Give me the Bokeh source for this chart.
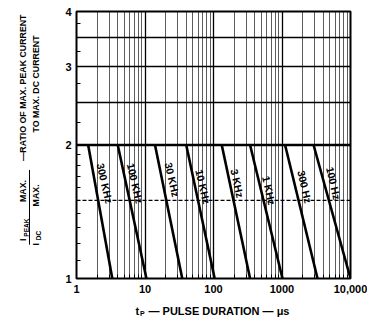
from bokeh.plotting import figure
from bokeh.layouts import row, column
from bokeh.models import FixedTicker, Span, ColumnDataSource
from bokeh.core.properties import value
from bokeh.embed import file_html
from bokeh.resources import INLINE

# ---- data ----
freq_labels = ["300 KHz", "100 KHz", "30 KHz", "10 KHz", "3 KHz", "1 KHz", "300 Hz", "100 Hz"]
knee_tp = [1.48, 4.0, 14.0, 40.0, 132.0, 342.0, 1110.0, 2890.0]   # where curve leaves ratio 2
end_tp = [3.33, 10.5, 35.0, 104.0, 342.0, 1017.0, 3300.0, 10000.0]  # where curve reaches ratio 1
flat_ratio = 2.0
end_ratio = 1.0
label_tp = [2.6, 7.2, 25.0, 70.3, 223.0, 648.0, 2155.0, 5660.0]
label_ratio = [1.64, 1.64, 1.67, 1.61, 1.64, 1.58, 1.61, 1.64]

x_ticks = [1, 10, 100, 1000, 10000]
x_tick_labels = ["1", "10", "100", "1000", "10,000"]
y_ticks = [1, 2, 3, 4]
y_tick_labels = ["1", "2", "3", "4"]
y_grid_solid = [2.5, 3, 3.5]
y_grid_dashed = 1.5

FONT = "Liberation Sans"
W, H = 367, 325
LEFT_W = 58
MAIN_H = 300

def blank(width, height):
    f = figure(width=width, height=height, x_range=(0, width), y_range=(0, height),
               x_axis_location=None, y_axis_location=None,
               output_backend="svg", toolbar_location=None, min_border=0)
    f.grid.visible = False
    f.outline_line_color = None
    f.background_fill_color = "white"
    f.border_fill_color = "white"
    return f

# ---------------- main chart ----------------
p = figure(width=W - LEFT_W, height=MAIN_H, x_axis_type="log", y_axis_type="log",
           x_range=(1, 10000), y_range=(1, 4),
           output_backend="svg", toolbar_location=None,
           min_border_left=18, min_border_right=17, min_border_top=11, min_border_bottom=22)
p.background_fill_color = "white"
p.border_fill_color = "white"
p.outline_line_color = "black"
p.outline_line_width = 2

x_minor = [m * d for d in [1, 10, 100, 1000] for m in range(2, 10)]
y_minor = [1.1, 1.2, 1.3, 1.4, 1.6, 1.7, 1.8, 1.9, 2.25, 2.75, 3.25, 3.75]

p.xgrid.ticker = FixedTicker(ticks=x_ticks, minor_ticks=x_minor)
p.xgrid.grid_line_color = "black"
p.xgrid.grid_line_width = 1.3
p.xgrid.minor_grid_line_color = "black"
p.xgrid.minor_grid_line_width = 0.8
p.xgrid.minor_grid_line_alpha = 0.8
p.ygrid.ticker = FixedTicker(ticks=y_grid_solid)
p.ygrid.grid_line_color = "black"
p.ygrid.grid_line_width = 1.3
p.add_layout(Span(location=y_grid_dashed, dimension="width", line_color="black",
                  line_width=1.2, line_dash="4 2"))

for ax in (p.xaxis[0], p.yaxis[0]):
    ax.axis_line_color = None
    ax.major_tick_out = 0
    ax.major_tick_in = 0
    ax.minor_tick_out = 0
    ax.minor_tick_in = 4
    ax.minor_tick_line_color = "black"
    ax.minor_tick_line_width = 1
    ax.major_label_text_font = FONT
    ax.major_label_text_font_style = "bold"
    ax.major_label_text_font_size = "11px"
    ax.major_label_text_color = "black"
p.xaxis.ticker = FixedTicker(ticks=x_ticks, minor_ticks=x_minor)
p.xaxis.major_label_overrides = {t: l for t, l in zip(x_ticks, x_tick_labels)}
p.xaxis.major_label_standoff = 6
p.yaxis.ticker = FixedTicker(ticks=y_ticks, minor_ticks=y_minor)
p.yaxis.major_label_overrides = {t: l for t, l in zip(y_ticks, y_tick_labels)}
p.yaxis.major_label_standoff = 5

p.line([x_ticks[0], x_ticks[-1]], [flat_ratio, flat_ratio], line_color="black", line_width=2.6)
xs = [[k, e] for k, e in zip(knee_tp, end_tp)]
ys = [[flat_ratio, end_ratio] for _ in knee_tp]
p.multi_line(xs, ys, line_color="black", line_width=2.6)

src = ColumnDataSource(dict(x=label_tp, y=label_ratio, t=freq_labels))
p.text(x="x", y="y", text="t", source=src, angle=-77, angle_units="deg",
       text_align="center", text_baseline="middle",
       text_font=value(FONT), text_font_style="bold", text_font_size="10.5px",
       text_color="black")

# ---------------- left title block ----------------
lf = blank(LEFT_W, MAIN_H)
def ytxt(txt, px, py, size="8.8px", align="center"):
    lf.text(x=[px], y=[MAIN_H - py], text=[txt], angle=90, angle_units="deg",
            text_align=align, text_baseline="middle", text_font=value(FONT),
            text_font_style="bold", text_font_size=size, text_color="black")

ytxt("RATIO OF MAX. PEAK CURRENT", 22, 81)
ytxt("TO MAX. DC CURRENT", 35.5, 81.5)
ytxt("\u2014", 22, 163)
ytxt("I", 22.5, 258, align="left")
ytxt("PEAK", 25.5, 253, size="6.5px", align="left")
ytxt("MAX.", 22.5, 214, align="left")
ytxt("I", 35.5, 263, align="left")
ytxt("DC", 38, 257, size="6.5px", align="left")
ytxt("MAX.", 35.5, 219, align="left")
lf.line([29, 29], [MAIN_H - 262, MAIN_H - 178], line_color="black", line_width=1)

# ---------------- bottom title ----------------
bf = blank(W, H - MAIN_H)
def xtxt(txt, px, py, size="11px", align="left"):
    bf.text(x=[px], y=[H - py], text=[txt], text_align=align, text_baseline="middle",
            text_font=value(FONT), text_font_style="bold", text_font_size=size,
            text_color="black")

xtxt("t", 135, 310)
xtxt("P", 139.5, 312.5, size="7px")
xtxt("\u2014 PULSE DURATION \u2014 \u03bcs", 148, 310)

layout = column(row(lf, p), bf)
open("out.html", "w").write(file_html(layout, INLINE))
